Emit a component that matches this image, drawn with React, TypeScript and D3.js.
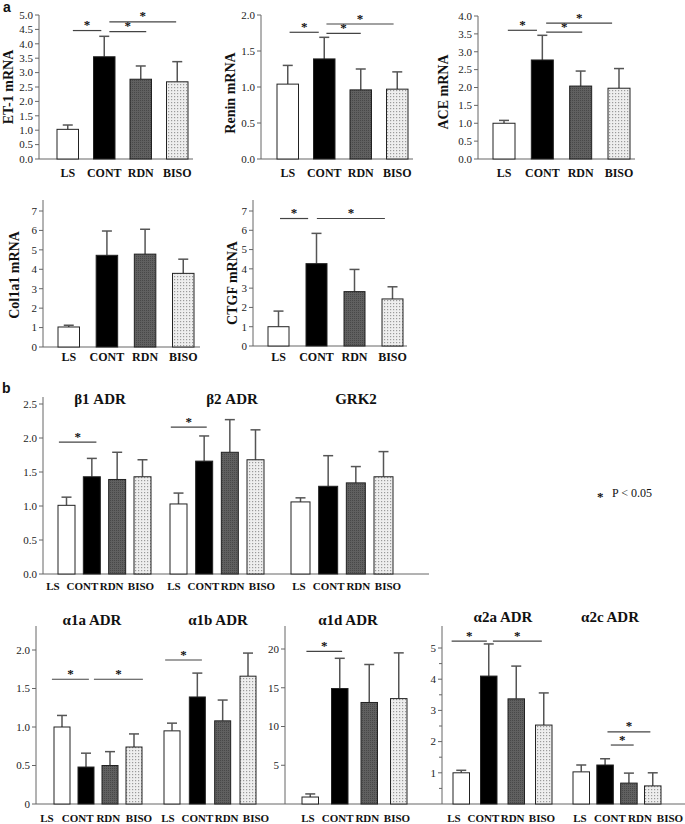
import React from "react";
import * as d3 from "d3";

const GROUPS = ["LS", "CONT", "RDN", "BISO"];

// ---- panel a (mRNA) ----
const ET1_MEAN = [1.03, 3.55, 2.77, 2.68];
const ET1_SEM = [0.15, 0.71, 0.46, 0.7];
const ET1_SIG = [[0.14, 0.92, 4.46], [1.14, 2.15, 4.42], [1.14, 2.97, 4.76]];

const RENIN_MEAN = [1.04, 1.39, 0.96, 0.97];
const RENIN_SEM = [0.26, 0.3, 0.29, 0.24];
const RENIN_SIG = [[0.05, 0.85, 1.76], [1.06, 2.0, 1.745], [1.06, 2.9, 1.875]];

const ACE_MEAN = [1.0, 2.77, 2.04, 1.98];
const ACE_SEM = [0.08, 0.69, 0.42, 0.55];
const ACE_SIG = [[0.1, 0.86, 3.6], [1.1, 2.04, 3.55], [1.1, 2.82, 3.8]];

const COL1A1_MEAN = [1.03, 4.72, 4.78, 3.79];
const COL1A1_SEM = [0.09, 1.25, 1.28, 0.73];
const COL1A1_SIG: number[][] = [];

const CTGF_MEAN = [1.0, 4.27, 2.82, 2.44];
const CTGF_SEM = [0.81, 1.57, 1.15, 0.63];
const CTGF_SIG = [[0.04, 0.78, 6.61], [1.01, 2.8, 6.61]];

// ---- panel b (receptors) ----
const B1_MEAN = [1.01, 1.43, 1.39, 1.43];
const B1_SEM = [0.12, 0.27, 0.4, 0.25];
const B1_SIG = [[-0.3, 1.18, 1.94]];

const B2_MEAN = [1.03, 1.66, 1.79, 1.68];
const B2_SEM = [0.16, 0.37, 0.48, 0.44];
const B2_SIG = [[-0.3, 1.1, 2.16]];

const GRK2_MEAN = [1.06, 1.29, 1.34, 1.43];
const GRK2_SEM = [0.06, 0.45, 0.24, 0.37];
const GRK2_SIG: number[][] = [];

const A1A_MEAN = [1.0, 0.48, 0.5, 0.74];
const A1A_SEM = [0.15, 0.18, 0.18, 0.17];
const A1A_SIG = [[-0.42, 1.12, 1.62], [1.33, 3.37, 1.62]];

const A1B_MEAN = [0.95, 1.39, 1.08, 1.66];
const A1B_SEM = [0.1, 0.31, 0.27, 0.3];
const A1B_SIG = [[-0.27, 1.18, 1.87]];

const A1D_MEAN = [0.9, 14.9, 13.1, 13.6];
const A1D_SEM = [0.4, 3.9, 4.9, 5.9];
const A1D_SIG = [[-0.13, 1.08, 19.7]];

const A2A_MEAN = [1.0, 4.1, 3.37, 2.53];
const A2A_SEM = [0.08, 1.03, 1.05, 1.03];
const A2A_SIG = [[-0.35, 0.93, 5.22], [1.15, 2.93, 5.22]];

const A2C_MEAN = [1.03, 1.25, 0.67, 0.58];
const A2C_SEM = [0.22, 0.2, 0.32, 0.42];
const A2C_SIG = [[1.24, 2.2, 1.89], [1.1, 2.9, 2.31]];

const SERIF = "'Liberation Serif', 'Times New Roman', serif";
const SANS = "'Liberation Sans', Arial, sans-serif";
const FILLS = ["#ffffff", "#000000", "url(#darkPat)", "url(#dotPat)"];

function bandScale(left: number, right: number, bw: number) {
  const R = right - left;
  const n = GROUPS.length;
  const pi = (R - n * bw) / (R - bw);
  return d3.scaleBand<string>().domain(GROUPS).range([left, right]).paddingInner(pi).paddingOuter(0);
}

type BarsProps = {
  mean: number[];
  sem: number[];
  sig: number[][];
  left: number;
  right: number;
  bw: number;
  y: d3.ScaleLinear<number, number>;
  labelY: number;
  labelSize?: number;
  labelRange?: [number, number];
};

function Bars({ mean, sem, sig, left, right, bw, y, labelY, labelSize = 12, labelRange }: BarsProps) {
  const x = bandScale(left, right, bw);
  const step = x.step();
  const c0 = (x(GROUPS[0]) as number) + x.bandwidth() / 2;
  const cN = (x(GROUPS[GROUPS.length - 1]) as number) + x.bandwidth() / 2;
  const idx = (i: number) => c0 + i * step;
  const lx = d3.scalePoint<string>().domain(GROUPS).range(labelRange ?? [c0, cN]);
  return (
    <g>
      {GROUPS.map((g, i) => {
        const bx = x(g) as number;
        const cx = bx + x.bandwidth() / 2;
        const top = y(mean[i]);
        const et = y(mean[i] + sem[i]);
        return (
          <g key={g}>
            <line x1={cx} x2={cx} y1={top} y2={et} stroke="#555" strokeWidth={1.5} />
            <line x1={cx - 5} x2={cx + 5} y1={et} y2={et} stroke="#555" strokeWidth={1.5} />
            <rect x={bx} y={top} width={x.bandwidth()} height={y(0) - top} fill={FILLS[i]} stroke="#222" strokeWidth={1} />
            <text x={lx(g)} y={labelY} textAnchor="middle" fontFamily={SERIF} fontWeight="bold" fontSize={labelSize} fill="#111">
              {g}
            </text>
          </g>
        );
      })}
      {sig.map((s, k) => {
        const x1 = idx(s[0]);
        const x2 = idx(s[1]);
        const yy = y(s[2]);
        return (
          <g key={"s" + k}>
            <line x1={x1} x2={x2} y1={yy} y2={yy} stroke="#444" strokeWidth={1.2} />
            <text x={(x1 + x2) / 2} y={yy - 1.5} textAnchor="middle" fontFamily={SERIF} fontWeight="bold" fontSize={13} fill="#111">
              *
            </text>
          </g>
        );
      })}
    </g>
  );
}

type YAxisProps = {
  y: d3.ScaleLinear<number, number>;
  x: number;
  top: number;
  ticks: number[];
  fmt: (d: number) => string;
  minor?: number[];
};

function YAxis({ y, x, top, ticks, fmt, minor = [] }: YAxisProps) {
  return (
    <g>
      <line x1={x} x2={x} y1={top} y2={y(0)} stroke="#666" strokeWidth={1} />
      {minor.map((t) => (
        <line key={"m" + t} x1={x - 3} x2={x} y1={y(t)} y2={y(t)} stroke="#666" strokeWidth={1} />
      ))}
      {ticks.map((t) => (
        <g key={t}>
          <line x1={x - 4} x2={x} y1={y(t)} y2={y(t)} stroke="#666" strokeWidth={1} />
          <text x={x - 6} y={y(t)} dy="0.35em" textAnchor="end" fontFamily={SERIF} fontSize={11} fill="#222">
            {fmt(t)}
          </text>
        </g>
      ))}
    </g>
  );
}

function YTitle({ x, y, text, size = 14 }: { x: number; y: number; text: string; size?: number }) {
  return (
    <text
      transform={`translate(${x},${y}) rotate(-90)`}
      textAnchor="middle"
      dominantBaseline="central"
      fontFamily={SERIF}
      fontWeight="bold"
      fontSize={size}
      fill="#111"
    >
      {text}
    </text>
  );
}

function Title({ x, y, text }: { x: number; y: number; text: string }) {
  return (
    <text x={x} y={y} textAnchor="middle" fontFamily={SERIF} fontWeight="bold" fontSize={15} fill="#111">
      {text}
    </text>
  );
}

const f1 = d3.format(".1f");
const fInt = d3.format("d");

export default function App() {
  // panel a scales
  const yA1 = d3.scaleLinear().domain([0, 5]).range([159, 15]);
  const yA2 = d3.scaleLinear().domain([0, 2]).range([159, 15]);
  const yA3 = d3.scaleLinear().domain([0, 4]).range([159, 16]);
  const yA4 = d3.scaleLinear().domain([0, 7]).range([347, 211]);
  const yA5 = d3.scaleLinear().domain([0, 7]).range([346, 211]);
  // panel b scales
  const yBT = d3.scaleLinear().domain([0, 2.5]).range([574, 404]);
  const yA1x = d3.scaleLinear().domain([0, 2]).range([804, 650]);
  const yA1d = d3.scaleLinear().domain([0, 20]).range([804, 649]);
  const yA2x = d3.scaleLinear().domain([0, 5]).range([804, 648]);

  const LB = 11;

  return (
    <svg
      width={685}
      height={824}
      style={{ position: "absolute", left: 0, top: 0, display: "block", background: "#fff" }}
    >
      <defs>
        <pattern id="dotPat" width={3} height={3} patternUnits="userSpaceOnUse">
          <rect width={3} height={3} fill="#eeeeee" />
          <rect width={1.2} height={1.2} fill="#9a9a9a" />
        </pattern>
        <pattern id="darkPat" width={2} height={2} patternUnits="userSpaceOnUse">
          <rect width={2} height={2} fill="#606060" />
          <rect width={1} height={1} fill="#484848" />
        </pattern>
      </defs>
      <rect width={685} height={824} fill="#fff" />

      {/* ---------- a ---------- */}
      <text x={3} y={12} fontFamily={SANS} fontWeight="bold" fontSize={14} fill="#111">a</text>

      {/* ET-1 */}
      <YAxis y={yA1} x={39} top={15} ticks={d3.range(0, 5.01, 0.5)} fmt={f1} />
      <line x1={39} x2={193} y1={yA1(0)} y2={yA1(0)} stroke="#666" />
      <Bars mean={ET1_MEAN} sem={ET1_SEM} sig={ET1_SIG} left={57} right={188} bw={21.5} y={yA1} labelY={177} />
      <YTitle x={8} y={87} text="ET-1 mRNA" />

      {/* Renin */}
      <YAxis y={yA2} x={261} top={15} ticks={d3.range(0, 2.01, 0.5)} fmt={f1} />
      <line x1={261} x2={413} y1={yA2(0)} y2={yA2(0)} stroke="#666" />
      <Bars mean={RENIN_MEAN} sem={RENIN_SEM} sig={RENIN_SIG} left={277} right={408} bw={21.5} y={yA2} labelY={177} />
      <YTitle x={230} y={93} text="Renin mRNA" />

      {/* ACE */}
      <YAxis y={yA3} x={478} top={16} ticks={d3.range(0, 4.01, 0.5)} fmt={f1} />
      <line x1={478} x2={635} y1={yA3(0)} y2={yA3(0)} stroke="#666" />
      <Bars mean={ACE_MEAN} sem={ACE_SEM} sig={ACE_SIG} left={493} right={630} bw={22} y={yA3} labelY={177} />
      <YTitle x={443} y={92} text="ACE mRNA" />

      {/* Col1a1 */}
      <YAxis y={yA4} x={43} top={200} ticks={d3.range(0, 8)} fmt={fInt} />
      <line x1={43} x2={200} y1={yA4(0)} y2={yA4(0)} stroke="#666" />
      <Bars mean={COL1A1_MEAN} sem={COL1A1_SEM} sig={COL1A1_SIG} left={58} right={194} bw={21.5} y={yA4} labelY={361} />
      <YTitle x={14} y={275} text="Col1a1 mRNA" />

      {/* CTGF */}
      <YAxis y={yA5} x={253} top={200} ticks={d3.range(0, 8)} fmt={fInt} />
      <line x1={253} x2={407} y1={yA5(0)} y2={yA5(0)} stroke="#666" />
      <Bars mean={CTGF_MEAN} sem={CTGF_SEM} sig={CTGF_SIG} left={268} right={403} bw={21} y={yA5} labelY={361} />
      <YTitle x={232} y={283} text="CTGF mRNA" />

      {/* ---------- b ---------- */}
      <text x={2} y={393} fontFamily={SANS} fontWeight="bold" fontSize={14} fill="#111">b</text>

      <YAxis y={yBT} x={43} top={397} ticks={d3.range(0, 2.51, 0.5)} fmt={f1} />
      <line x1={43} x2={429} y1={yBT(0)} y2={yBT(0)} stroke="#666" />
      <Bars mean={B1_MEAN} sem={B1_SEM} sig={B1_SIG} left={58} right={151} bw={17} y={yBT} labelY={590} labelSize={LB} labelRange={[53, 141]} />
      <Bars mean={B2_MEAN} sem={B2_SEM} sig={B2_SIG} left={170} right={264} bw={17} y={yBT} labelY={590} labelSize={LB} labelRange={[174, 262]} />
      <Bars mean={GRK2_MEAN} sem={GRK2_SEM} sig={GRK2_SIG} left={291} right={393} bw={19} y={yBT} labelY={590} labelSize={LB} labelRange={[299, 388]} />
      <Title x={100} y={404} text="β1 ADR" />
      <Title x={232} y={404} text="β2 ADR" />
      <Title x={356} y={404} text="GRK2" />

      <text x={597} y={501} fontFamily={SERIF} fontWeight="bold" fontSize={13} fill="#111">*</text>
      <text x={612} y={497} fontFamily={SERIF} fontSize={12} fill="#111">P &lt; 0.05</text>

      {/* bottom row */}
      <line x1={36} x2={685} y1={804} y2={804} stroke="#666" />
      <YAxis y={yA1x} x={36} top={626} ticks={[0, 0.5, 1, 1.5, 2]} fmt={(d) => (d === 0 ? "0" : f1(d))} />
      <Bars mean={A1A_MEAN} sem={A1A_SEM} sig={A1A_SIG} left={54} right={142} bw={16} y={yA1x} labelY={822} labelSize={LB} labelRange={[47, 139]} />
      <Bars mean={A1B_MEAN} sem={A1B_SEM} sig={A1B_SIG} left={164} right={256} bw={16} y={yA1x} labelY={822} labelSize={LB} labelRange={[168, 256]} />
      <Title x={92} y={625} text="α1a ADR" />
      <Title x={218} y={625} text="α1b ADR" />

      <YAxis y={yA1d} x={285} top={626} ticks={[5, 10, 15, 20]} fmt={fInt} />
      <Bars mean={A1D_MEAN} sem={A1D_SEM} sig={A1D_SIG} left={302} right={407} bw={16.5} y={yA1d} labelY={822} labelSize={LB} labelRange={[308, 397]} />
      <Title x={348} y={625} text="α1d ADR" />

      <YAxis y={yA2x} x={442} top={626} ticks={[1, 2, 3, 4, 5]} fmt={fInt} minor={[0.5, 1.5, 2.5, 3.5, 4.5]} />
      <Bars mean={A2A_MEAN} sem={A2A_SEM} sig={A2A_SIG} left={453} right={552} bw={16.5} y={yA2x} labelY={822} labelSize={LB} labelRange={[454, 542]} />
      <Bars mean={A2C_MEAN} sem={A2C_SEM} sig={A2C_SIG} left={573} right={661} bw={16.5} y={yA2x} labelY={822} labelSize={LB} labelRange={[580, 670]} />
      <Title x={503} y={622} text="α2a ADR" />
      <Title x={610} y={622} text="α2c ADR" />
    </svg>
  );
}
